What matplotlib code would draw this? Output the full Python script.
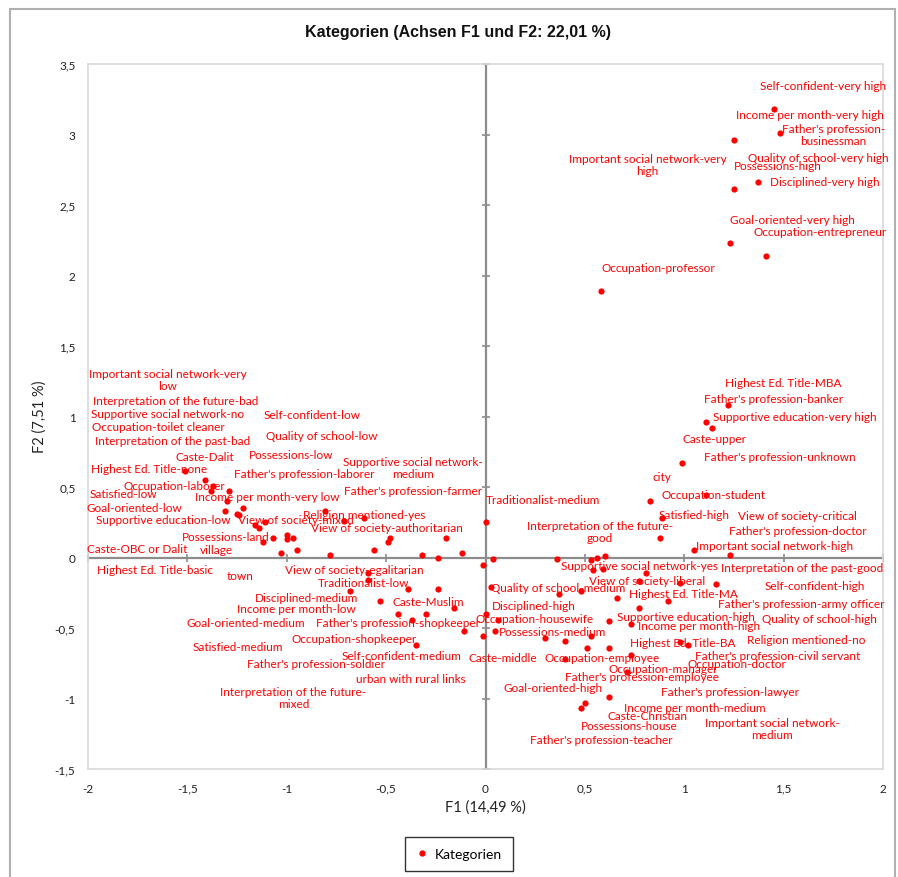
import matplotlib
matplotlib.use("Agg")
import matplotlib.pyplot as plt
from matplotlib.lines import Line2D
from matplotlib.patches import Rectangle

# ---------------- data ----------------
title = "Kategorien (Achsen F1 und F2: 22,01 %)"
x_title = "F1 (14,49 %)"
y_title = "F2 (7,51 %)"
series_name = "Kategorien"

x_ticks = [-2, -1.5, -1, -0.5, 0, 0.5, 1, 1.5, 2]
y_ticks = [-1.5, -1, -0.5, 0, 0.5, 1, 1.5, 2, 2.5, 3, 3.5]

# category coordinates (F1, F2)
pt_x = [1.45, 1.48, 1.25, 1.37, 1.25, 1.23, 1.41, 0.58,
        1.22, 1.11, 1.14, 0.99, 0.83, 1.11, 0.89, 0.88, 1.05, 1.23,
        0.005, -0.20, -0.12, -0.24, -0.32, 0.04, 0.36, 0.53, 0.56, 0.60,
        -0.015, 0.54, 0.59, 0.81, 0.03, 0.37, 0.48, 0.77, 0.98, 1.16,
        0.66, 0.92, 0.77, 0.005, 0.065, 0.62, 0.73, -0.015, 0.05, 0.30,
        0.40, 0.53, 0.51, 0.62, 0.98, 1.02, 0.40, 0.73, 0.71, 0.62,
        0.50, 0.48,
        -1.51, -1.41, -1.37, -1.38, -1.29, -1.30, -1.31, -1.25, -1.22, -1.24,
        -1.16, -1.14, -1.11, -1.12, -1.07, -1.00, -1.00, -0.97, -1.03, -0.95,
        -0.81, -0.78, -0.71, -0.61, -0.56, -0.49, -0.48,
        -0.59, -0.59, -0.39, -0.24, -0.68, -0.53, -0.44, -0.37, -0.30, -0.16,
        -0.11, -0.35]
pt_y = [3.18, 3.01, 2.96, 2.66, 2.61, 2.23, 2.14, 1.89,
        1.08, 0.96, 0.92, 0.67, 0.40, 0.44, 0.28, 0.14, 0.05, 0.02,
        0.25, 0.135, 0.035, 0.00, 0.02, -0.014, -0.014, -0.02, -0.007, 0.014,
        -0.05, -0.09, -0.08, -0.11, -0.21, -0.26, -0.24, -0.17, -0.18, -0.19,
        -0.29, -0.305, -0.355, -0.40, -0.44, -0.45, -0.47, -0.56, -0.52, -0.57,
        -0.59, -0.56, -0.645, -0.645, -0.60, -0.62, -0.72, -0.69, -0.81, -0.99,
        -1.03, -1.07,
        0.61, 0.55, 0.51, 0.475, 0.47, 0.40, 0.33, 0.31, 0.35, 0.30,
        0.23, 0.21, 0.25, 0.11, 0.14, 0.16, 0.13, 0.14, 0.035, 0.05,
        0.33, 0.02, 0.26, 0.28, 0.05, 0.11, 0.135,
        -0.11, -0.16, -0.22, -0.22, -0.24, -0.31, -0.40, -0.44, -0.40, -0.36,
        -0.52, -0.62]

# category labels and where the chart places them (data units)
label_text = [
    "Self-confident-very high", "Income per month-very high",
    "Father's profession-\nbusinessman", "Important social network-very\nhigh",
    "Quality of school-very high", "Possessions-high", "Disciplined-very high",
    "Goal-oriented-very high", "Occupation-entrepreneur", "Occupation-professor",
    "Highest Ed. Title-MBA", "Father's profession-banker",
    "Supportive education-very high", "Caste-upper", "Father's profession-unknown",
    "city", "Occupation-student", "Traditionalist-medium",
    "Interpretation of the future-\ngood", "Satisfied-high", "View of society-critical",
    "Father's profession-doctor", "Important social network-high",
    "Supportive social network-yes", "Interpretation of the past-good",
    "View of society-liberal", "Quality of school-medium", "Self-confident-high",
    "Highest Ed. Title-MA", "Disciplined-high", "Father's profession-army officer",
    "Occupation-housewife", "Supportive education-high", "Quality of school-high",
    "Income per month-high", "Possessions-medium", "Religion mentioned-no",
    "Highest Ed. Title-BA", "Father's profession-civil servant", "Caste-middle",
    "Occupation-employee", "Occupation-doctor", "Occupation-manager",
    "Father's profession-employee", "Goal-oriented-high", "Father's profession-lawyer",
    "Income per month-medium", "Caste-Christian",
    "Important social network-\nmedium", "Possessions-house",
    "Father's profession-teacher",
    "Important social network-very\nlow", "Interpretation of the future-bad",
    "Supportive social network-no", "Self-confident-low", "Occupation-toilet cleaner",
    "Quality of school-low", "Interpretation of the past-bad", "Caste-Dalit",
    "Possessions-low", "Supportive social network-\nmedium", "Highest Ed. Title-none",
    "Father's profession-laborer", "Occupation-laborer", "Father's profession-farmer",
    "Satisfied-low", "Income per month-very low", "Goal-oriented-low",
    "Religion mentioned-yes", "Supportive education-low", "View of society-mixed",
    "View of society-authoritarian", "Possessions-land", "Caste-OBC or Dalit",
    "village",
    "Highest Ed. Title-basic", "town", "View of society-egalitarian",
    "Traditionalist-low", "Disciplined-medium", "Caste-Muslim",
    "Income per month-low", "Goal-oriented-medium", "Father's profession-shopkeeper",
    "Occupation-shopkeeper", "Satisfied-medium", "Self-confident-medium",
    "Father's profession-soldier", "urban with rural links",
    "Interpretation of the future-\nmixed",
]
label_x = [
    1.70, 1.63, 1.75, 0.815, 1.675, 1.47, 1.705, 1.545, 1.685, 0.87,
    1.50, 1.45, 1.555, 1.15, 1.48, 0.886, 1.147, 0.29, 0.574, 1.052,
    1.57, 1.57, 1.454, 0.775, 1.595,
    0.815, 0.367, 1.655, 0.996, 0.242, 1.59, 0.247, 1.011, 1.681, 1.077,
    0.337, 1.615, 0.991, 1.469, 0.086, 0.589, 1.263, 0.896, 0.785, 0.342,
    1.228, 1.052, 0.815, 1.444, 0.725, 0.584,
    -1.60, -1.56, -1.60, -0.87, -1.645, -0.825, -1.575, -1.414, -0.976, -0.367,
    -1.691, -0.911, -1.565, -0.362, -1.821, -1.097, -1.766, -0.609, -1.62, -0.956,
    -0.498, -1.308, -1.751, -1.353,
    -1.665, -1.233, -0.659, -0.614, -0.901, -0.287, -0.951, -1.208, -0.438, -0.659,
    -1.248, -0.423, -0.855, -0.377, -0.966,
]
label_y = [
    3.35, 3.14, 3.00, 2.79, 2.84, 2.78, 2.67, 2.40, 2.31, 2.06,
    1.241, 1.128, 1.00, 0.844, 0.716, 0.574, 0.447, 0.411, 0.184, 0.305,
    0.298, 0.191, 0.085, -0.057, -0.071,
    -0.163, -0.213, -0.199, -0.255, -0.34, -0.326, -0.433, -0.418, -0.433, -0.482,
    -0.525, -0.582, -0.603, -0.695, -0.709, -0.709, -0.752, -0.787, -0.844, -0.922,
    -0.95, -1.064, -1.121, -1.213, -1.191, -1.291,
    1.262, 1.113, 1.021, 1.014, 0.929, 0.865, 0.83, 0.716, 0.73, 0.638,
    0.631, 0.596, 0.511, 0.475, 0.454, 0.433, 0.355, 0.305, 0.27, 0.27,
    0.213, 0.149, 0.064, 0.057,
    -0.085, -0.128, -0.085, -0.177, -0.284, -0.312, -0.362, -0.461, -0.461, -0.574,
    -0.631, -0.695, -0.752, -0.858, -0.993,
]

# ---------------- drawing ----------------
W, H = 898, 878
RED = "#ff0000"
GRID = "#d9d9d9"
AXIS = "#8c8c8c"
LBL_FONT = ["Lato", "DejaVu Sans"]

def fmt(v):
    return ("%g" % v).replace(".", ",")

fig = plt.figure(figsize=(W / 100, H / 100), dpi=100)
fig.patch.set_facecolor("white")
fig.patches.append(Rectangle((10 / W, -0.01), (895 - 10) / W, (H - 10) / H + 0.01,
                             transform=fig.transFigure, fill=False,
                             edgecolor="#b0b0b0", lw=1.5))

ax = fig.add_axes([88 / W, 1 - 770 / H, (883 - 88) / W, (770 - 65) / H])
ax.set_xlim(-2, 2)
ax.set_ylim(-1.5, 3.5)
for s in ax.spines.values():
    s.set_color(GRID)
    s.set_linewidth(1.2)

ax.set_xticks(x_ticks)
ax.set_xticklabels([fmt(v) for v in x_ticks])
ax.set_yticks(y_ticks)
ax.set_yticklabels([fmt(v) for v in y_ticks])
ax.tick_params(axis="x", length=0, pad=10, labelsize=8.5, labelcolor="#222222")
ax.tick_params(axis="y", length=0, pad=9, labelsize=8.5, labelcolor="#222222")
for t in ax.get_xticklabels() + ax.get_yticklabels():
    t.set_family(LBL_FONT)

# central axes with cross ticks
ax.axhline(0, color=AXIS, lw=1.6, zorder=1)
ax.axvline(0, color=AXIS, lw=1.6, zorder=1)
ax.plot(x_ticks, [0] * len(x_ticks), ls="none", marker="|", ms=6, mew=1.2,
        color=AXIS, zorder=1, clip_on=False)
ax.plot([0] * len(y_ticks), y_ticks, ls="none", marker="_", ms=6, mew=1.2,
        color=AXIS, zorder=1, clip_on=False)

ax.scatter(pt_x, pt_y, s=20, color=RED, zorder=3, linewidths=0)

for t, lx, ly in zip(label_text, label_x, label_y):
    ax.text(lx, ly, t, ha="center", va="center", color=RED, fontsize=8.5,
            family=LBL_FONT, linespacing=1.1, zorder=4)

fig.text(458 / W, 1 - 33 / H, title, ha="center", va="center",
         fontsize=11.5, fontweight="bold", family="Liberation Sans", color="#111111")
fig.text(485 / W, 1 - 808 / H, x_title, ha="center", va="center",
         fontsize=10.5, family=LBL_FONT, color="#222222")
fig.text(40 / W, 1 - 417 / H, y_title, ha="center", va="center", rotation=90,
         fontsize=10.5, family=LBL_FONT, color="#222222")

handle = Line2D([], [], ls="none", marker="o", ms=3.5, color=RED)
leg = fig.legend([handle], [series_name], loc="center",
                 bbox_to_anchor=(459 / W, 1 - 855 / H), frameon=True,
                 fancybox=False, edgecolor="black",
                 handlelength=0.8, handletextpad=0.5, borderpad=0.8,
                 prop={"family": LBL_FONT, "size": 10})
leg.get_frame().set_linewidth(1.0)

fig.savefig("out.png", dpi=100, facecolor="white")
